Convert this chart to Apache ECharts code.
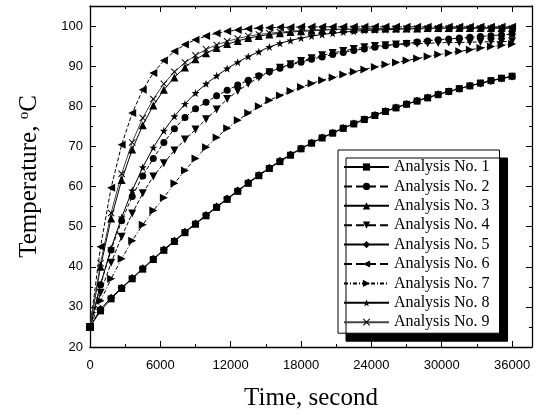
<!DOCTYPE html>
<html>
<head>
<meta charset="utf-8">
<script src="https://cdn.jsdelivr.net/npm/echarts@6/dist/echarts.min.js"></script>
<style>
html,body{margin:0;padding:0;background:#fff;}
#chart{width:542px;height:416px;}
</style>
</head>
<body>
<div id="chart"></div>
<script>
// time in seconds
const timeSec = [0, 900, 1800, 2700, 3600, 4500, 5400, 6300, 7200, 8100, 9000, 9900, 10800, 11700, 12600, 13500, 14400, 15300, 16200, 17100, 18000, 18900, 19800, 20700, 21600, 22500, 23400, 24300, 25200, 26100, 27000, 27900, 28800, 29700, 30600, 31500, 32400, 33300, 34200, 35100, 36000];

const analysis1 = [25, 29.0, 32.0, 34.6, 37.0, 39.4, 41.8, 44.1, 46.3, 48.5, 50.6, 52.7, 54.8, 56.8, 58.8, 60.8, 62.7, 64.5, 66.2, 67.8, 69.4, 70.8, 72.1, 73.3, 74.5, 75.6, 76.7, 77.7, 78.7, 79.6, 80.5, 81.3, 82.1, 82.9, 83.7, 84.4, 85.1, 85.8, 86.4, 87.0, 87.5];
const analysis2 = [25, 35.5, 44.2, 51.5, 57.5, 62.6, 67.0, 71.0, 74.4, 77.2, 79.4, 81.0, 82.6, 84.0, 85.3, 86.5, 87.6, 88.6, 89.5, 90.3, 91.0, 91.7, 92.3, 92.9, 93.4, 93.9, 94.3, 94.7, 95.1, 95.4, 95.7, 96.0, 96.3, 96.6, 96.8, 97.0, 97.2, 97.4, 97.6, 97.8, 98.0];
const analysis3 = [25, 40.0, 52.0, 61.6, 69.2, 75.3, 80.2, 84.1, 87.2, 89.7, 91.7, 93.2, 94.5, 95.5, 96.3, 97.0, 97.5, 97.9, 98.2, 98.5, 98.7, 98.8, 99.0, 99.1, 99.2, 99.2, 99.3, 99.3, 99.4, 99.4, 99.4, 99.4, 99.5, 99.5, 99.5, 99.5, 99.5, 99.5, 99.5, 99.5, 99.5];
const analysis4 = [25, 33.5, 41.0, 47.5, 53.3, 58.3, 62.5, 65.8, 69.0, 71.7, 74.2, 76.8, 79.2, 81.8, 83.8, 85.6, 87.2, 88.5, 89.6, 90.5, 91.3, 92.0, 92.7, 93.3, 93.8, 94.3, 94.7, 95.0, 95.2, 95.4, 95.5, 95.6, 95.7, 95.8, 95.9, 95.9, 96.0, 96.0, 96.1, 96.1, 96.2];
const analysis5 = [25, 29.5, 32.3, 34.8, 37.2, 39.6, 42.0, 44.3, 46.5, 48.7, 50.8, 52.9, 55.0, 57.0, 59.0, 61.0, 62.9, 64.7, 66.4, 68.0, 69.5, 70.9, 72.2, 73.4, 74.6, 75.7, 76.8, 77.8, 78.8, 79.7, 80.6, 81.4, 82.2, 83.0, 83.7, 84.4, 85.1, 85.7, 86.3, 86.9, 87.4];
const analysis6 = [25, 45.0, 59.7, 70.4, 78.3, 84.1, 88.3, 91.4, 93.7, 95.4, 96.6, 97.5, 98.2, 98.7, 99.0, 99.3, 99.5, 99.6, 99.7, 99.7, 99.8, 99.8, 99.8, 99.8, 99.8, 99.8, 99.8, 99.8, 99.8, 99.8, 99.8, 99.8, 99.8, 99.8, 99.8, 99.8, 99.8, 99.8, 99.8, 99.8, 99.8];
const analysis7 = [25, 31.5, 37.0, 42.0, 46.5, 50.5, 54.0, 57.2, 60.8, 64.0, 67.0, 69.8, 72.2, 74.5, 76.5, 78.3, 80.0, 81.5, 82.7, 83.8, 84.8, 85.7, 86.5, 87.2, 87.9, 88.6, 89.2, 89.8, 90.4, 90.9, 91.4, 91.9, 92.4, 92.9, 93.3, 93.7, 94.1, 94.5, 94.9, 95.2, 95.5];
const analysis8 = [25, 35.6, 44.6, 52.3, 59.0, 64.8, 69.7, 73.9, 77.5, 80.6, 83.3, 85.6, 87.6, 89.4, 91.0, 92.4, 93.6, 94.8, 95.7, 96.4, 97.0, 97.5, 97.9, 98.2, 98.5, 98.7, 98.9, 99.0, 99.1, 99.2, 99.3, 99.3, 99.4, 99.4, 99.4, 99.5, 99.5, 99.5, 99.5, 99.5, 99.5];
const analysis9 = [25, 40.9, 53.4, 63.2, 71.0, 77.1, 81.8, 85.6, 88.6, 90.9, 92.7, 94.2, 95.3, 96.2, 96.9, 97.5, 97.9, 98.2, 98.5, 98.7, 98.9, 99.0, 99.1, 99.2, 99.2, 99.3, 99.3, 99.3, 99.4, 99.4, 99.4, 99.4, 99.4, 99.4, 99.4, 99.4, 99.4, 99.4, 99.4, 99.4, 99.4];

const seriesNames = ['Analysis No. 1','Analysis No. 2','Analysis No. 3','Analysis No. 4','Analysis No. 5','Analysis No. 6','Analysis No. 7','Analysis No. 8','Analysis No. 9'];
const seriesValues = [analysis1, analysis2, analysis3, analysis4, analysis5, analysis6, analysis7, analysis8, analysis9];

const xTickLabels = ['0','6000','12000','18000','24000','30000','36000'];
const yTickLabels = ['20','30','40','50','60','70','80','90','100'];

const symbols = [
  'rect',
  'circle',
  'triangle',
  'path://M0,0L10,0L5,10Z',
  'diamond',
  'path://M10,0L10,10L0,5Z',
  'path://M0,0L10,5L0,10Z',
  'path://M5,0L6.2,3.6L10,3.6L7,5.9L8.1,9.5L5,7.3L1.9,9.5L3,5.9L0,3.6L3.8,3.6Z',
  'path://M0,1L1,0L5,4L9,0L10,1L6,5L10,9L9,10L5,6L1,10L0,9L4,5Z'
];
const lineTypes = ['solid','dashed','solid','dashed','solid','dashed',[4,2,1,2],'solid','solid'];
const symbolSizes = [7,7,8,8,8,8,8,8,7];

const chart = echarts.init(document.getElementById('chart'), null, {renderer:'canvas'});

const series = seriesValues.map((vals, i) => ({
  name: seriesNames[i],
  type: 'line',
  xAxisIndex: 0,
  yAxisIndex: 0,
  data: timeSec.map((t, k) => [t, vals[k]]),
  symbol: symbols[i],
  symbolSize: symbolSizes[i],
  showAllSymbol: true,
  animation: false,
  lineStyle: {color: i === 8 ? '#444' : '#000', width: 1, type: lineTypes[i]},
  itemStyle: {color: '#000'}
}));

const axisFontX = {fontFamily: 'Liberation Sans', fontSize: 13, color: '#000'};
const mkX = (pos, show) => ({
  type: 'value', position: pos, min: 0, max: 37700, interval: 6000,
  axisLine: {show: true, onZero: false, lineStyle: {color: '#000', width: 1.3}},
  axisTick: {show: true, inside: true, length: 6, lineStyle: {color: '#000'}},
  minorTick: {show: true, splitNumber: 2, length: 3, lineStyle: {color: '#000'}},
  splitLine: {show: false},
  axisLabel: {show: show, showMaxLabel: false, margin: 12, ...axisFontX,
    formatter: v => xTickLabels[Math.round(v / 6000)] || ''}
});
const mkY = (pos, show) => ({
  type: 'value', position: pos, min: 20, max: 105, interval: 10,
  axisLine: {show: true, onZero: false, lineStyle: {color: '#000', width: 1.3}},
  axisTick: {show: true, inside: true, length: 6, lineStyle: {color: '#000'}},
  minorTick: {show: true, splitNumber: 2, length: 3, lineStyle: {color: '#000'}},
  splitLine: {show: false},
  axisLabel: {show: show, showMaxLabel: false, margin: 7, ...axisFontX,
    formatter: v => yTickLabels[Math.round((v - 20) / 10)] || ''}
});

const xMain = mkX('bottom', true);
xMain.name = 'Time, second';
xMain.nameLocation = 'middle';
xMain.nameGap = 39;
xMain.nameTextStyle = {fontFamily: 'Liberation Serif', fontSize: 25, color: '#000'};

const yMain = mkY('left', true);
yMain.name = '{a|Temperature, }{s|o}{a|C}';
yMain.nameLocation = 'middle';
yMain.nameGap = 48;
yMain.nameTextStyle = {
  rich: {
    a: {fontFamily: 'Liberation Serif', fontSize: 25, color: '#000'},
    s: {fontFamily: 'Liberation Serif', fontSize: 15, color: '#000', verticalAlign: 'top', padding: [0,0,10,0]}
  }
};

chart.setOption({
  animation: false,
  backgroundColor: '#fff',
  grid: {left: 90, right: 10, top: 6, bottom: 60, show: false},
  xAxis: [xMain, mkX('top', false)],
  yAxis: [yMain, mkY('right', false)],
  legend: {
    orient: 'vertical',
    left: 338, top: 150,
    padding: [9, 10, 3, 5],
    itemWidth: 45, itemHeight: 9, itemGap: 3.4,
    itemTextGap: 4,
    backgroundColor: '#fff',
    borderColor: '#000', borderWidth: 1,
    shadowColor: '#000', shadowBlur: 0, shadowOffsetX: 8, shadowOffsetY: 8,
    textStyle: {fontFamily: 'Liberation Serif', fontSize: 16, lineHeight: 16, color: '#000'},
    data: seriesNames
  },
  series: series
});
</script>
</body>
</html>
